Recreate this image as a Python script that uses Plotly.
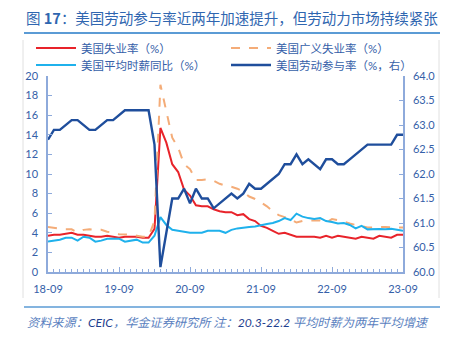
import plotly.graph_objects as go

# ---- data (monthly, 2018-09 .. 2023-09) ----
months = [f"{y % 100:02d}-{m:02d}" for y in range(2018, 2024) for m in range(1, 13)
          if (y, m) >= (2018, 9) and (y, m) <= (2023, 9)]

unemp = [3.7, 3.8, 3.8, 3.9,
         4.0, 3.8, 3.8, 3.7, 3.6, 3.6, 3.7, 3.6, 3.5, 3.6, 3.6, 3.6,
         3.5, 3.5, 4.4, 14.7, 13.2, 11.0, 10.2, 8.4, 7.8, 6.8, 6.7, 6.7,
         6.4, 6.2, 6.1, 6.1, 5.8, 5.9, 5.4, 5.2, 4.7, 4.5, 4.2, 3.9,
         4.0, 3.8, 3.6, 3.6, 3.6, 3.6, 3.5, 3.7, 3.5, 3.7, 3.6, 3.5,
         3.4, 3.6, 3.5, 3.4, 3.7, 3.6, 3.5, 3.8, 3.8]

broad_unemp = [4.6, 4.5, 4.4, 4.35,
               4.35, 4.05, 4.3, 4.35, 4.3, 4.3, 4.1, 4.05, 3.85, 3.85, 3.8, 3.7,
               3.6, 3.6, 5.2, 19.1, 16.3, 13.7, 12.7, 11.0, 10.5, 9.4, 9.4, 9.45,
               9.3, 9.0, 8.8, 8.7, 8.5, 8.2, 7.7, 7.45, 7.1, 6.7, 6.2, 5.8,
               5.6, 5.4, 5.05, 5.2, 5.25, 5.25, 5.25, 5.05, 5.4, 5.3, 5.1, 4.95,
               4.8, 4.65, 4.55, 4.55, 4.6, 4.6, 4.55, 4.55, 4.55]

wage_yoy = [3.1, 3.2, 3.3, 3.5,
            3.5, 3.2, 3.6, 3.5, 3.1, 3.2, 3.4, 3.4, 3.4, 3.1, 3.2, 3.3,
            3.0, 3.0, 3.7, 5.6, 4.8, 4.3, 4.2, 4.1, 4.0, 4.0, 4.0, 4.2,
            4.2, 4.2, 4.0, 4.3, 4.45, 4.55, 4.6, 4.65, 4.8, 4.9, 5.0, 5.2,
            5.5, 5.3, 5.95, 5.65, 5.5, 5.4, 5.5, 5.2, 5.1, 4.95, 5.0, 4.8,
            4.45, 4.7, 4.35, 4.4, 4.4, 4.35, 4.4, 4.3, 4.2]

lfpr = [62.7, 62.9, 62.9, 63.0,
        63.1, 63.1, 63.0, 62.9, 62.9, 63.0, 63.1, 63.1, 63.2, 63.3, 63.3, 63.3,
        63.3, 63.3, 62.6, 60.1, 60.8, 61.5, 61.5, 61.7, 61.4, 61.7, 61.5, 61.5,
        61.3, 61.4, 61.5, 61.6, 61.5, 61.6, 61.8, 61.7, 61.7, 61.8, 61.9, 62.0,
        62.2, 62.2, 62.4, 62.2, 62.3, 62.2, 62.1, 62.3, 62.3, 62.2, 62.2, 62.3,
        62.4, 62.5, 62.6, 62.6, 62.6, 62.6, 62.6, 62.8, 62.8]

x_tick_labels = ["18-09", "19-09", "20-09", "21-09", "22-09", "23-09"]
left_ticks = list(range(0, 21, 2))
right_ticks = [60.0, 60.5, 61.0, 61.5, 62.0, 62.5, 63.0, 63.5, 64.0]

names = ["美国失业率（%）", "美国广义失业率（%）", "美国平均时薪同比（%）", "美国劳动参与率（%，右）"]

# ---- styling ----
FONT = "Lato, 'Noto Sans CJK SC', sans-serif"
TXT = "#3560a8"
AX = "#8eaadb"
x_idx = list(range(len(months)))

fig = go.Figure()
fig.add_trace(go.Scatter(x=x_idx, y=unemp, name=names[0], mode="lines", legend="legend",
                         line=dict(color="#e8232a", width=2)))
fig.add_trace(go.Scatter(x=x_idx, y=broad_unemp, name=names[1], mode="lines", legend="legend2",
                         line=dict(color="#f4ac78", width=2, dash="dash")))
fig.add_trace(go.Scatter(x=x_idx, y=wage_yoy, name=names[2], mode="lines", legend="legend3",
                         line=dict(color="#1fb1ec", width=2)))
fig.add_trace(go.Scatter(x=x_idx, y=lfpr, name=names[3], mode="lines", yaxis="y2",
                         legend="legend4", line=dict(color="#1f4e9c", width=2.4)))

W, H = 449, 340
L, R, T, B = 48, 403, 76, 272
pw, ph = R - L, B - T


def px(x):
    return (x - L) / pw


def py(y):
    return (B - y) / ph


tick_idx = [months.index(t) for t in x_tick_labels]
leg_common = dict(orientation="v", xanchor="left", yanchor="middle", tracegroupgap=0,
                  itemwidth=40,
                  font=dict(size=11.5, color=TXT, family=FONT), bgcolor="rgba(0,0,0,0)",
                  borderwidth=0)

fig.update_layout(
    width=W, height=H,
    margin=dict(l=L, r=W - R, t=T, b=H - B, pad=0),
    paper_bgcolor="white", plot_bgcolor="white",
    font=dict(family=FONT, size=11, color=TXT),
    showlegend=True,
    legend=dict(x=px(31), y=py(48), **leg_common),
    legend2=dict(x=px(226), y=py(48), **leg_common),
    legend3=dict(x=px(31), y=py(65), **leg_common),
    legend4=dict(x=px(226), y=py(65), **leg_common),
    xaxis=dict(range=[0, len(months) - 1], tickvals=tick_idx, ticktext=x_tick_labels,
               showgrid=False, zeroline=False, showline=True, linecolor=AX, linewidth=1.5,
               ticks="inside", ticklen=5, tickcolor=AX, tickwidth=1,
               minor=dict(dtick=1, ticks="inside", ticklen=3, tickcolor=AX, tickwidth=1),
               ticklabelstandoff=6, tickfont=dict(size=11, color=TXT)),
    yaxis=dict(range=[0, 20], tickvals=left_ticks, showgrid=False, zeroline=False,
               showline=True, linecolor=AX, linewidth=1.5, ticks="inside", ticklen=4,
               tickcolor=AX, ticklabelstandoff=6, tickfont=dict(size=11, color=TXT)),
    yaxis2=dict(range=[60, 64], tickvals=right_ticks, tickformat=".1f", overlaying="y",
                side="right", showgrid=False, zeroline=False, showline=True, linecolor=AX,
                linewidth=1.5, ticks="inside", ticklen=4, tickcolor=AX,
                ticklabelstandoff=6, tickfont=dict(size=11, color=TXT)),
)

# title
fig.add_annotation(xref="paper", yref="paper", x=px(24), y=py(17), xanchor="left",
                   yanchor="middle", showarrow=False,
                   text="图 <b>17</b>：美国劳动参与率近两年加速提升，但劳动力市场持续紧张",
                   font=dict(size=14.5, color="#2f66b0", family="'Noto Sans CJK SC', sans-serif"))
# footer
fig.add_annotation(xref="paper", yref="paper", x=px(25), y=py(322), xanchor="left",
                   yanchor="middle", showarrow=False,
                   text=("<i>资料来源：<span style='color:#1f3f8f'>CEIC</span>，华金证券研究所 注："
                         "<span style='color:#1f3f8f'>20.3-22.2</span> 平均时薪为两年平均增速</i>"),
                   font=dict(size=12.2, color="#5a7fc0", family="Lato, 'Noto Sans CJK SC', sans-serif"))

# decorative lines
fig.add_shape(type="line", xref="paper", yref="paper", x0=px(24), x1=px(440),
              y0=py(33), y1=py(33), line=dict(color="#5b9bd5", width=2))
fig.add_shape(type="line", xref="paper", yref="paper", x0=px(24), x1=px(440),
              y0=py(307), y1=py(307), line=dict(color="#5b9bd5", width=1.5))
for xx in (23, 439):
    fig.add_shape(type="line", xref="paper", yref="paper", x0=px(xx), x1=px(xx),
                  y0=py(40), y1=py(298), line=dict(color="#e0e0e0", width=1))

fig.write_html("out.html")
